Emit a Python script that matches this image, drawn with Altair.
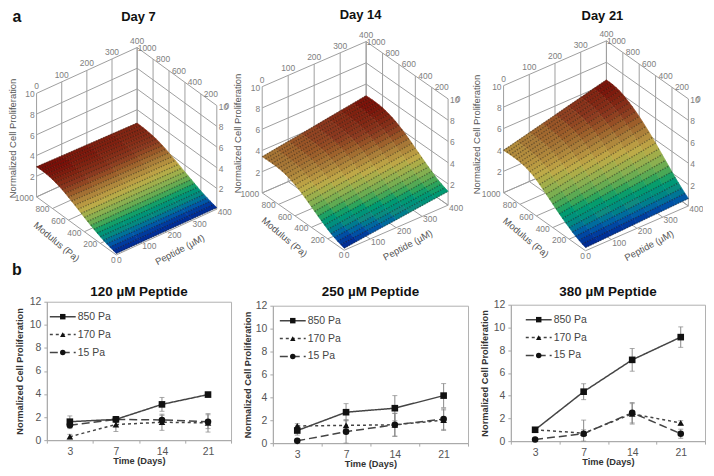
import altair as alt
import pandas as pd

MODULUS = list(range(0, 1001, 40))
PEPTIDE_5 = [0, 100, 200, 300, 400]
PEPTIDE_9 = [0, 50, 100, 150, 200, 250, 300, 350, 400]

DAY7 = [
[.15,.15,.15,.15,.15],[.22,.22,.22,.22,.22],[.31,.31,.31,.31,.31],[.41,.41,.41,.41,.41],
[.52,.52,.52,.52,.52],[.64,.64,.64,.64,.64],[.77,.77,.77,.77,.77],[.91,.91,.91,.91,.91],
[1.06,1.06,1.06,1.06,1.06],[1.22,1.21,1.21,1.20,1.20],[1.38,1.37,1.36,1.35,1.34],
[1.55,1.53,1.52,1.51,1.49],[1.72,1.70,1.68,1.66,1.64],[1.89,1.86,1.84,1.81,1.79],
[2.05,2.02,1.99,1.96,1.93],[2.21,2.17,2.14,2.10,2.07],[2.36,2.32,2.28,2.24,2.20],
[2.50,2.45,2.41,2.36,2.32],[2.62,2.57,2.52,2.47,2.42],[2.72,2.67,2.61,2.56,2.50],
[2.80,2.74,2.68,2.63,2.57],[2.86,2.80,2.74,2.68,2.62],[2.90,2.84,2.78,2.72,2.66],
[2.92,2.86,2.80,2.74,2.68],[2.92,2.86,2.80,2.74,2.69],[2.90,2.85,2.80,2.75,2.70]]
DAY14 = [
[.20,.34,.48,.62,.75,.89,1.03,1.17,1.30],[.31,.45,.58,.72,.86,1.00,1.14,1.28,1.42],
[.42,.56,.70,.84,.98,1.12,1.27,1.41,1.55],[.55,.70,.84,.98,1.12,1.27,1.41,1.56,1.70],
[.70,.85,1.00,1.15,1.29,1.44,1.59,1.74,1.88],[.88,1.04,1.19,1.34,1.49,1.65,1.80,1.95,2.10],
[1.08,1.24,1.39,1.54,1.69,1.85,2.00,2.15,2.30],[1.28,1.44,1.59,1.75,1.90,2.06,2.21,2.37,2.52],
[1.50,1.66,1.81,1.97,2.12,2.28,2.44,2.60,2.75],[1.72,1.88,2.04,2.20,2.35,2.51,2.67,2.83,2.98],
[1.94,2.10,2.26,2.42,2.57,2.73,2.89,3.05,3.20],[2.16,2.32,2.48,2.64,2.80,2.96,3.12,3.28,3.44],
[2.38,2.54,2.70,2.86,3.02,3.18,3.34,3.50,3.66],[2.58,2.74,2.90,3.07,3.23,3.39,3.55,3.72,3.88],
[2.76,2.93,3.09,3.26,3.42,3.59,3.75,3.92,4.08],[2.92,3.09,3.26,3.43,3.59,3.76,3.93,4.10,4.26],
[3.06,3.23,3.40,3.57,3.74,3.91,4.08,4.25,4.42],[3.18,3.36,3.53,3.70,3.87,4.05,4.22,4.39,4.56],
[3.28,3.46,3.63,3.81,3.98,4.16,4.33,4.51,4.68],[3.35,3.53,3.71,3.89,4.06,4.24,4.42,4.60,4.77],
[3.40,3.58,3.76,3.94,4.12,4.30,4.48,4.66,4.84],[3.42,3.60,3.79,3.98,4.16,4.34,4.52,4.71,4.89],
[3.43,3.62,3.80,3.99,4.17,4.36,4.54,4.73,4.91],[3.43,3.62,3.80,3.99,4.18,4.37,4.55,4.74,4.92],
[3.42,3.61,3.79,3.98,4.17,4.36,4.54,4.73,4.91],[3.40,3.59,3.78,3.96,4.15,4.34,4.53,4.71,4.90]]
DAY21 = [
[.30,.35,.40,.45,.50,.55,.60,.65,.70],[.42,.48,.55,.62,.68,.75,.82,.88,.95],
[.55,.64,.72,.80,.88,.96,1.05,1.14,1.22],[.70,.80,.90,1.00,1.10,1.20,1.30,1.40,1.50],
[.88,1.00,1.11,1.22,1.34,1.46,1.57,1.68,1.80],[1.08,1.21,1.34,1.47,1.59,1.72,1.85,1.98,2.10],
[1.28,1.42,1.56,1.70,1.85,1.99,2.13,2.28,2.42],[1.50,1.66,1.81,1.96,2.12,2.28,2.43,2.58,2.74],
[1.72,1.89,2.06,2.23,2.39,2.56,2.73,2.90,3.06],[1.95,2.13,2.31,2.49,2.67,2.85,3.02,3.20,3.38],
[2.20,2.39,2.58,2.76,2.95,3.14,3.33,3.52,3.70],[2.44,2.64,2.83,3.02,3.22,3.42,3.61,3.80,4.00],
[2.68,2.88,3.09,3.29,3.49,3.70,3.90,4.10,4.30],[2.92,3.13,3.34,3.54,3.75,3.96,4.17,4.38,4.58],
[3.16,3.37,3.58,3.80,4.01,4.22,4.43,4.64,4.85],[3.38,3.60,3.81,4.02,4.24,4.46,4.67,4.88,5.10],
[3.56,3.78,3.99,4.22,4.45,4.67,4.89,5.12,5.34],[3.70,3.93,4.16,4.40,4.63,4.86,5.09,5.32,5.55],
[3.82,4.06,4.30,4.54,4.78,5.02,5.26,5.50,5.74],[3.90,4.16,4.41,4.66,4.91,5.16,5.42,5.67,5.92],
[3.95,4.22,4.48,4.75,5.02,5.28,5.55,5.82,6.08],[3.98,4.26,4.54,4.82,5.09,5.37,5.65,5.92,6.20],
[3.99,4.28,4.56,4.85,5.14,5.42,5.71,6.00,6.28],[3.99,4.28,4.58,4.87,5.16,5.46,5.75,6.04,6.33],
[3.98,4.28,4.57,4.87,5.17,5.46,5.76,6.06,6.35],[3.95,4.25,4.55,4.85,5.15,5.45,5.75,6.05,6.35]]

DAYS = ["3", "7", "14", "21"]
SERIES = ["850 Pa", "170 Pa", "15 Pa"]
P120 = {"850 Pa": ([1.6,1.8,3.1,3.95],[.5,.2,.6,.2]),
        "170 Pa": ([.3,1.35,1.55,1.5],[.2,.6,.7,.8]),
        "15 Pa": ([1.3,1.8,1.75,1.6],[.3,.15,.4,.6])}
P250 = {"850 Pa": ([1.1,2.7,3.05,4.15],[.4,.75,1.1,1.05]),
        "170 Pa": ([1.5,1.55,1.6,2.0],[.2,.5,1.0,.9]),
        "15 Pa": ([.2,1.0,1.6,2.1],[.1,1.0,1.0,.9])}
P380 = {"850 Pa": ([1.0,4.35,7.15,9.15],[.15,.7,1.0,.9]),
        "170 Pa": ([1.0,.7,2.4,1.6],[.1,.3,.9,.2]),
        "15 Pa": ([.15,.65,2.5,.65],[.1,1.2,.9,.4])}

FONT = "Liberation Sans"

# oblique view of each 3D box: wall corners at z=10 and the z height on the page
VIEWS = [
    dict(back=(129.7, 38.7), left=(28.7, 84.7), right=(209.7, 97.0), h=104.0),
    dict(back=(359.7, 32.7), left=(255.3, 78.0), right=(442.0, 90.3), h=106.7),
    dict(back=(601.0, 32.0), left=(497.7, 77.0), right=(683.3, 90.3), h=107.5),
]

def project(v, p, m, z):
    a, b = 1 - p / 400, 1 - m / 1000
    x = v["back"][0] + a * (v["left"][0] - v["back"][0]) + b * (v["right"][0] - v["back"][0])
    y = v["back"][1] + a * (v["left"][1] - v["back"][1]) + b * (v["right"][1] - v["back"][1]) + (10 - z) / 10 * v["h"]
    return [round(x, 2), round(y, 2)]

cells, mesh, walls, labels, names, big = [], [], [], [], [], []

def line(coords):
    return {"type": "Feature", "properties": {}, "geometry": {"type": "LineString", "coordinates": coords}}

def text(lst, x, y, t, align="center", angle=0):
    lst.append({"lon": x, "lat": y, "t": t, "align": align, "angle": angle})

for v, surf, cols, title, tc, ax in zip(VIEWS, [DAY7, DAY14, DAY21], [PEPTIDE_5, PEPTIDE_9, PEPTIDE_9],
                                        ["Day 7", "Day 14", "Day 21"],
                                        [(131, 8), (354, 6), (597, 7)], [(5, 130), (231, 125), (471, 126)]):
    zmax = max(max(r) for r in surf)
    for i in range(len(MODULUS) - 1, 0, -1):
        for j in range(len(cols) - 1, 0, -1):
            m0, m1, p0, p1 = MODULUS[i - 1], MODULUS[i], cols[j - 1], cols[j]
            zs = [surf[i - 1][j - 1], surf[i - 1][j], surf[i][j], surf[i][j - 1]]
            ring = [project(v, p0, m0, zs[0]), project(v, p1, m0, zs[1]),
                    project(v, p1, m1, zs[2]), project(v, p0, m1, zs[3])]
            ring.append(ring[0])
            cells.append({"type": "Feature", "properties": {"t": sum(zs) / 4 / zmax},
                          "geometry": {"type": "Polygon", "coordinates": [ring]}})
    for i, m in enumerate(MODULUS):
        mesh.append(line([project(v, p, m, surf[i][j]) for j, p in enumerate(cols)]))
    for z in [0, 2, 4, 6, 8, 10]:
        walls.append(line([project(v, 0, 1000, z), project(v, 400, 1000, z), project(v, 400, 0, z)]))
        if z:
            a = project(v, 0, 1000, z)
            text(labels, a[0] - 2, a[1] + 1, str(z), "right")
            a = project(v, 400, 0, z)
            text(labels, a[0] + 2, a[1] + 1, str(z), "left")
    for p in [0, 100, 200, 300, 400]:
        walls.append(line([project(v, p, 1000, 0), project(v, p, 1000, 10)]))
        walls.append(line([project(v, p, 1000, 0), project(v, p, 0, 0)]))
        a = project(v, p, 1000, 10)
        text(labels, a[0], a[1] - 7, str(p))
        a = project(v, p, 0, 0)
        if p:
            text(labels, a[0] + 8, a[1] + 3, str(p))
    for m in [0, 200, 400, 600, 800, 1000]:
        walls.append(line([project(v, 400, m, 0), project(v, 400, m, 10)]))
        walls.append(line([project(v, 0, m, 0), project(v, 400, m, 0)]))
        a = project(v, 400, m, 10)
        text(labels, a[0] + 10, a[1], str(m))
        a = project(v, 0, m, 0)
        if m:
            text(labels, a[0] - 3, a[1] + 1, str(m), "right")
    f = project(v, 0, 0, 0)
    text(labels, f[0] - 3, f[1] + 5, "0")
    text(labels, f[0] + 3, f[1] + 5, "0")
    text(names, f[0] - 60, f[1] - 13, "Modulus (Pa)", "center", 40)
    text(names, f[0] + 64, f[1] - 5, "Peptide (µM)", "center", 332)
    text(names, ax[0], ax[1], "Normalized Cell Proliferation", "center", 270)
    text(big, tc[0], tc[1], title)

cmap = alt.Scale(domain=[0, .1, .2, .32, .45, .57, .7, .85, 1],
                 range=["#000080", "#0040a0", "#108a80", "#2fa55a", "#8fb050", "#c0aa48", "#a87a38", "#8c3a20", "#780a06"])

def geo(features):
    return alt.InlineData(values={"type": "FeatureCollection", "features": features},
                          format=alt.DataFormat(type="json", property="features"))

identity = dict(type="identity", scale=1, translate=[0, 0])
wall_l = alt.Chart(geo(walls)).mark_geoshape(filled=False, stroke="#9e9e9e", strokeWidth=1).project(**identity)
cell_l = alt.Chart(geo(cells)).mark_geoshape(strokeWidth=0.6).encode(
    fill=alt.Fill("properties.t:Q", scale=cmap, legend=None),
    stroke=alt.Stroke("properties.t:Q", scale=cmap, legend=None)).project(**identity)
mesh_l = alt.Chart(geo(mesh)).mark_geoshape(filled=False, stroke="#1a1408", strokeWidth=1.3, strokeOpacity=0.45,
                                            strokeDash=[1.4, 1.3]).project(**identity)
lab_rows = pd.DataFrame(labels)

def text_layer(df, **kw):
    return alt.Chart(df).mark_text(font=FONT, **kw).encode(
        longitude="lon:Q", latitude="lat:Q", text="t:N",
        angle=alt.Angle("angle:Q", scale=None)).project(**identity)

def side_layer(df, a):
    return alt.Chart(df).mark_text(font=FONT, fontSize=8.5, color="#808080", align=a).encode(
        longitude="lon:Q", latitude="lat:Q", text="t:N").project(**identity)

lab_c = text_layer(lab_rows[lab_rows["align"] == "center"], fontSize=8.5, color="#808080")
lab_r = side_layer(lab_rows[lab_rows["align"] == "right"], "right")
lab_l = side_layer(lab_rows[lab_rows["align"] == "left"], "left")
name_l = text_layer(pd.DataFrame(names), fontSize=9.5, color="#555555")
big_l = text_layer(pd.DataFrame(big), fontSize=13, fontWeight="bold", color="#111111")
letters = text_layer(pd.DataFrame([{"lon": 9, "lat": 8, "t": "a", "align": "center", "angle": 0},
                                   {"lon": 9, "lat": 262, "t": "b", "align": "center", "angle": 0}]),
                     fontSize=16, fontWeight="bold", color="#111111")

top = alt.layer(wall_l, cell_l, mesh_l, lab_c, lab_r, lab_l, name_l, big_l, letters).properties(width=698, height=270)

SHAPES = alt.Scale(domain=SERIES, range=["square", "triangle-up", "circle"])
DASHES = alt.Scale(domain=SERIES, range=[[1, 0], [3, 3], [8, 4]])

def spacer():
    return alt.Chart(pd.DataFrame({"a": [0]})).mark_text().encode(
        x=alt.value(0), y=alt.value(0), text=alt.value("")).properties(width=1, height=1, view=alt.ViewConfig(stroke=None))

def panel(title, values, w, h, offset, legx, ytitle, pad, legend_y=(15, 33, 51)):
    rows = []
    for s in SERIES:
        for d, y, e in zip(DAYS, *values[s]):
            rows.append({"day": d, "s": s, "y": y, "lo": max(y - e, 0), "hi": y + e})
    df = pd.DataFrame(rows)
    x = alt.X("day:N", sort=DAYS, title="Time (Days)",
              scale=alt.Scale(paddingInner=0, paddingOuter=0),
              axis=alt.Axis(labelAngle=0, tickBand="extent", titlePadding=0))
    def yq(f):
        return alt.Y(f + ":Q", title=ytitle, scale=alt.Scale(domain=[0, 12]),
                     axis=alt.Axis(values=[0, 2, 4, 6, 8, 10, 12], titlePadding=pad))
    base = alt.Chart(df)
    rule = base.mark_rule(color="#888888", strokeWidth=1).encode(x=x, y=yq("lo"), y2="hi:Q")
    lo = base.mark_tick(color="#888888", size=5, orient="horizontal", thickness=1).encode(x=x, y=yq("lo"))
    hi = base.mark_tick(color="#888888", size=5, orient="horizontal", thickness=1).encode(x=x, y=yq("hi"))
    ln = base.mark_line(color="#444444", strokeWidth=1.5).encode(
        x=x, y=yq("y"), detail="s:N", strokeDash=alt.StrokeDash("s:N", scale=DASHES, legend=None))
    pts = base.mark_point(filled=True, color="#111111", size=44, opacity=1).encode(
        x=x, y=yq("y"), shape=alt.Shape("s:N", scale=SHAPES, legend=None))
    layers = [rule, lo, hi, ln, pts]
    for s, ly, dash in zip(SERIES, legend_y, [[1, 0], [3, 3], [8, 4]]):
        k = alt.Chart(pd.DataFrame({"s": [s]}))
        layers.append(k.mark_rule(color="#444444", strokeWidth=1.5, strokeDash=dash).encode(
            x=alt.value(legx), x2=alt.value(legx + 26), y=alt.value(ly)))
        layers.append(k.mark_point(filled=True, color="#111111", size=30, opacity=1).encode(
            x=alt.value(legx + 13), y=alt.value(ly), shape=alt.Shape("s:N", scale=SHAPES, legend=None)))
        layers.append(k.mark_text(font=FONT, fontSize=10.5, color="#444444", align="left").encode(
            x=alt.value(legx + 28), y=alt.value(ly), text="s:N"))
    chart = alt.layer(*layers).properties(
        width=w, height=h,
        title=alt.TitleParams(title, font=FONT, fontSize=13.5, fontWeight="bold", color="#111111", offset=offset))
    return alt.vconcat(spacer(), chart, spacing=0)

YT = "Normalized Cell Proliferation"
row = alt.hconcat(panel("120 µM Peptide", P120, 185, 139, -2, 3, YT, 5),
                  panel("250 µM Peptide", P250, 196, 138, 2, 7, YT, 3),
                  panel("380 µM Peptide", P380, 195, 137, 1, 15, YT, 4),
                  spacing=10)
bottom = alt.hconcat(spacer(), row, spacing=5)

chart = alt.vconcat(top, bottom, spacing=-4).properties(
    padding=0, background="white"
).configure(font=FONT).configure_view(stroke="#b0b0b0").configure_axis(
    grid=False, domainColor="#a8a8a8", tickColor="#a8a8a8", labelColor="#555555", labelFont=FONT, labelFontSize=10.5,
    titleFont=FONT, titleFontSize=9.3, titleFontWeight="bold", titleColor="#333333", tickSize=3, labelPadding=3)

chart.save("out.html", embed_options={"renderer": "svg", "actions": False})
